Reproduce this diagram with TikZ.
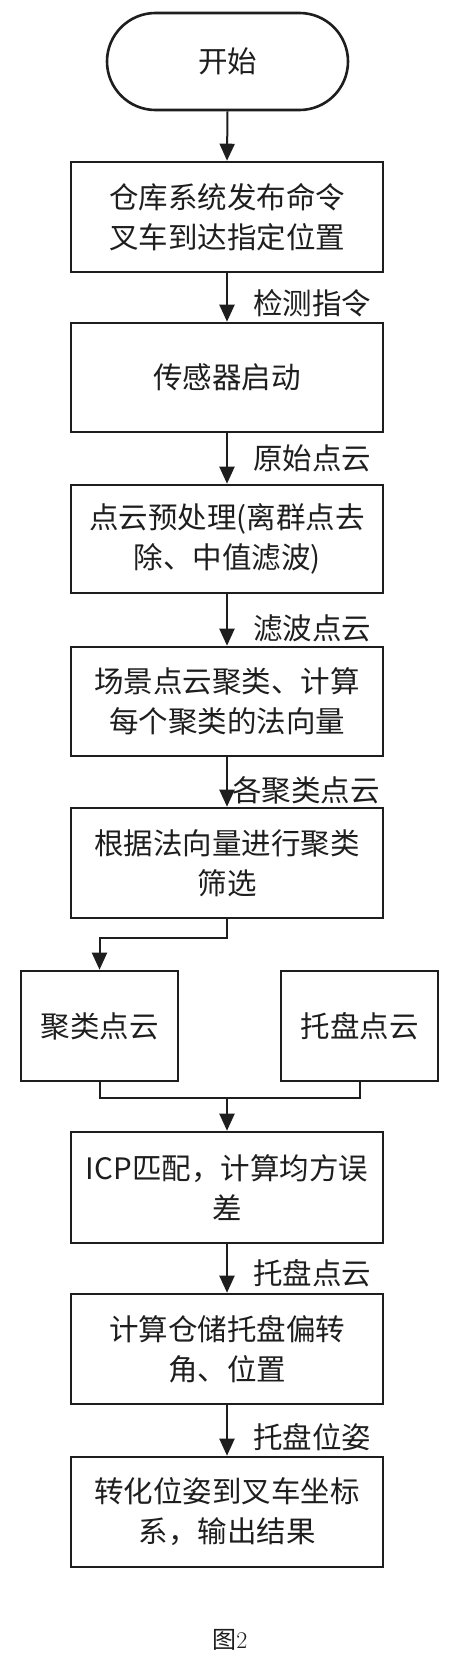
\documentclass[tikz,border=0pt]{standalone}
\usepackage{fontspec}
\setmainfont{Noto Sans CJK SC}
\usetikzlibrary{arrows.meta,shapes.misc}
\definecolor{ink}{HTML}{1E1E1E}
\tikzset{
  box/.style={draw=ink, line width=2.6pt, rectangle, minimum width=312pt, minimum height=110pt, align=center, text=ink, font=\fontsize{29.5}{40}\selectfont, inner sep=0pt},
  smallbox/.style={box, minimum width=157pt},
  term/.style={draw=ink, line width=2.6pt, rounded rectangle, minimum width=241pt, minimum height=97pt, text=ink, font=\fontsize{29.5}{40}\selectfont, inner sep=0pt},
  lbl/.style={anchor=west, text=ink, font=\fontsize{29.5}{40}\selectfont, inner sep=0pt},
  arr/.style={draw=ink, line width=2pt, -{Triangle[length=17pt,width=15pt]}},
  conn/.style={draw=ink, line width=2pt}
}
\begin{document}
\begin{tikzpicture}[x=1pt,y=-1pt]
\useasboundingbox[fill=white] (0,0) rectangle (453,1662);
\node[term] (start) at (227.5,61.5) {开始};
\node[box] (b1) at (227,217) {仓库系统发布命令\\叉车到达指定位置};
\node[box, minimum height=109pt] (b2) at (227,377.5) {传感器启动};
\node[box, minimum height=108pt] (b3) at (227,539) {点云预处理(离群点去\\除、中值滤波)};
\node[box, minimum height=109pt] (b4) at (227,701.5) {场景点云聚类、计算\\每个聚类的法向量};
\node[box] (b5) at (227,863) {根据法向量进行聚类\\筛选};
\node[smallbox] (left) at (99.5,1026) {聚类点云};
\node[smallbox] (right) at (359.5,1026) {托盘点云};
\node[box, minimum height=111pt] (b6) at (227,1187.5) {ICP匹配，计算均方误\\差};
\node[box] (b7) at (227,1349) {计算仓储托盘偏转\\角、位置};
\node[box] (b8) at (227,1512) {转化位姿到叉车坐标\\系，输出结果};

\node[lbl] (l1) at (253,303) {检测指令};
\node[lbl] (l2) at (253,458) {原始点云};
\node[lbl] (l3) at (253,628) {滤波点云};
\node[lbl] (l4) at (232,790) {各聚类点云};
\node[lbl] (l5) at (253,1273) {托盘点云};
\node[lbl] (l6) at (253,1437) {托盘位姿};

\draw[arr] (start.south) -- (b1.north);
\draw[arr] (b1.south) -- (b2.north);
\draw[arr] (b2.south) -- (b3.north);
\draw[arr] (b3.south) -- (b4.north);
\draw[arr] (b4.south) -- (b5.north);
\draw[arr] (b5.south) -- ++(0,19) -| (left.north);
\draw[conn] (left.south) -- ++(0,16) -| (right.south);
\coordinate (m) at (227,1097);
\draw[arr] (m) -- (b6.north);
\draw[arr] (b6.south) -- (b7.north);
\draw[arr] (b7.south) -- (b8.north);

\node[text=ink, font=\fontsize{24}{28}\selectfont, inner sep=0pt] (cap) at (230,1640) {图{\fontspec{Latin Modern Roman}2}};
\end{tikzpicture}
\end{document}
